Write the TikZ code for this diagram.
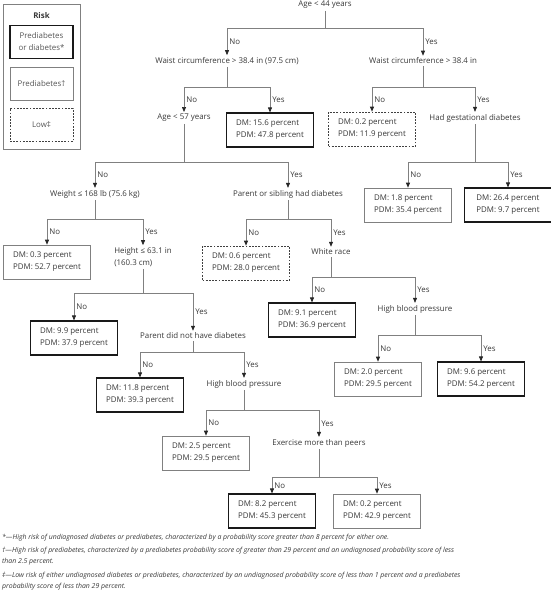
\documentclass[tikz,border=0pt]{standalone}
\usepackage{fontspec}
\setmainfont{Open Sans}
\usetikzlibrary{arrows.meta}
\definecolor{ink}{HTML}{383838}
\definecolor{wire}{HTML}{808080}

\begin{document}
\begin{tikzpicture}[x=1pt, y=-1pt,
    every node/.style={font=\fontsize{7.9}{12}\selectfont, text=ink},
    q/.style={inner sep=2pt, align=left},
    hi/.style={draw=black!90, line width=1.1pt, minimum width=87pt,
               minimum height=34pt, align=left},
    pre/.style={draw=wire, line width=0.6pt, minimum width=87pt,
                minimum height=34pt, align=left},
    low/.style={draw=black!75, line width=0.6pt, dash pattern=on 1.8pt off 1.4pt,
                minimum width=87pt, minimum height=34pt, align=left},
    key/.style={minimum width=63pt, minimum height=33pt, align=center, text=ink!85},
    link/.style={draw=wire, line width=0.7pt,
                 -{Triangle[width=4pt,length=5pt,color=black!85]}},
    yn/.style={right, inner sep=2pt}]
  \useasboundingbox (0,0) rectangle (550,593);

  \draw[wire, line width=0.6pt] (3,4) rectangle (80,149);
  \node[font=\fontsize{7.9}{12}\selectfont\bfseries] (risk) at (41.5,16) {Risk};
  \node[hi, key]  (k1) at (41.5,42)  {Prediabetes\\or diabetes*};
  \node[pre, key] (k2) at (41.5,83.5){Prediabetes†};
  \node[low, key] (k3) at (41.5,125) {Low‡};

  \node[q] (a44)  at (325,5)   {Age < 44 years};
  \node[q] (wl)   at (227,61)  {Waist circumference > 38.4 in (97.5 cm)};
  \node[q] (wr)   at (423,61)  {Waist circumference > 38.4 in};
  \node[q] (a57)  at (184,118) {Age < 57 years};
  \node[hi]  (d1) at (270,130) {DM: 15.6 percent\\PDM: 47.8 percent};
  \node[low] (d2) at (372,129) {DM: 0.2 percent\\PDM: 11.9 percent};
  \node[q] (gest) at (475,118) {Had gestational diabetes};
  \node[q] (wt)   at (95,194)  {Weight ≤ 168 lb (75.6 kg)};
  \node[q] (par)  at (288,194) {Parent or sibling had diabetes};
  \node[pre] (d3) at (408,205) {DM: 1.8 percent\\PDM: 35.4 percent};
  \node[hi]  (d4) at (508,205) {DM: 26.4 percent\\PDM: 9.7 percent};
  \node[pre] (d5) at (47,262)  {DM: 0.3 percent\\PDM: 52.7 percent};
  \node[q] (ht)   at (143,257) {Height ≤ 63.1 in\\(160.3 cm)};
  \node[low] (d6) at (246,263) {DM: 0.6 percent\\PDM: 28.0 percent};
  \node[q] (white) at (331,252) {White race};
  \node[hi]  (d7) at (74,338)  {DM: 9.9 percent\\PDM: 37.9 percent};
  \node[q] (pnd)  at (193,336) {Parent did not have diabetes};
  \node[hi]  (d8) at (312,320) {DM: 9.1 percent\\PDM: 36.9 percent};
  \node[q] (bpr)  at (415,309) {High blood pressure};
  \node[hi]  (d9) at (140,395) {DM: 11.8 percent\\PDM: 39.3 percent};
  \node[q] (bpl)  at (244,384) {High blood pressure};
  \node[pre] (d10) at (378,379) {DM: 2.0 percent\\PDM: 29.5 percent};
  \node[hi]  (d11) at (481,379) {DM: 9.6 percent\\PDM: 54.2 percent};
  \node[pre] (d12) at (206,453) {DM: 2.5 percent\\PDM: 29.5 percent};
  \node[q] (ex)   at (319,443) {Exercise more than peers};
  \node[hi]  (d13) at (272,511) {DM: 8.2 percent\\PDM: 45.3 percent};
  \node[pre] (d14) at (377,511) {DM: 0.2 percent\\PDM: 42.9 percent};

  \draw[link] (a44) -- (a44 |- 0,28) -| (wl) node[yn, near end]{No};
  \draw[link] (a44 |- 0,28) -| (wr) node[yn, near end]{Yes};
  \draw[link] (wl) -- (wl |- 0,87) -| (a57) node[yn, near end]{No};
  \draw[link] (wl |- 0,87) -| (d1) node[yn, near end]{Yes};
  \draw[link] (wr) -- (wr |- 0,87) -| (d2) node[yn, near end]{No};
  \draw[link] (wr |- 0,87) -| (gest) node[yn, near end]{Yes};
  \draw[link] (a57) -- (a57 |- 0,162) -| (wt) node[yn, near end]{No};
  \draw[link] (a57 |- 0,162) -| (par) node[yn, near end]{Yes};
  \draw[link] (gest) -- (gest |- 0,162) -| (d3) node[yn, near end]{No};
  \draw[link] (gest |- 0,162) -| (d4) node[yn, near end]{Yes};
  \draw[link] (wt) -- (wt |- 0,219) -| (d5) node[yn, near end]{No};
  \draw[link] (wt |- 0,219) -| (ht) node[yn, near end]{Yes};
  \draw[link] (par) -- (par |- 0,219) -| (d6) node[yn, near end]{No};
  \draw[link] (par |- 0,219) -| (white) node[yn, near end]{Yes};
  \draw[link] (ht) -- (ht |- 0,293) -| (d7) node[yn, near end]{No};
  \draw[link] (ht |- 0,293) -| (pnd) node[yn, near end]{Yes};
  \draw[link] (white) -- (white |- 0,277) -| (d8) node[yn, near end]{No};
  \draw[link] (white |- 0,277) -| (bpr) node[yn, near end]{Yes};
  \draw[link] (pnd) -- (pnd |- 0,352) -| (d9) node[yn, near end]{No};
  \draw[link] (pnd |- 0,352) -| (bpl) node[yn, near end]{Yes};
  \draw[link] (bpr) -- (bpr |- 0,335) -| (d10) node[yn, near end]{No};
  \draw[link] (bpr |- 0,335) -| (d11) node[yn, near end]{Yes};
  \draw[link] (bpl) -- (bpl |- 0,410) -| (d12) node[yn, near end]{No};
  \draw[link] (bpl |- 0,410) -| (ex) node[yn, near end]{Yes};
  \draw[link] (ex) -- (ex |- 0,477) -| (d13) node[yn, near end]{No};
  \draw[link] (ex |- 0,477) -| (d14) node[yn, near end]{Yes};

  \node[anchor=north west, inner sep=0pt, align=left,
        font=\fontsize{6.9}{11}\selectfont\itshape] (notes) at (2,534)
    {*—High risk of undiagnosed diabetes or prediabetes, characterized by a probability score greater than 8 percent for either one.\\[2.5pt]
     †—High risk of prediabetes, characterized by a prediabetes probability score of greater than 29 percent and an undiagnosed probability score of less\\
     than 2.5 percent.\\[2.5pt]
     ‡—Low risk of either undiagnosed diabetes or prediabetes, characterized by an undiagnosed probability score of less than 1 percent and a prediabetes\\
     probability score of less than 29 percent.};
\end{tikzpicture}
\end{document}
